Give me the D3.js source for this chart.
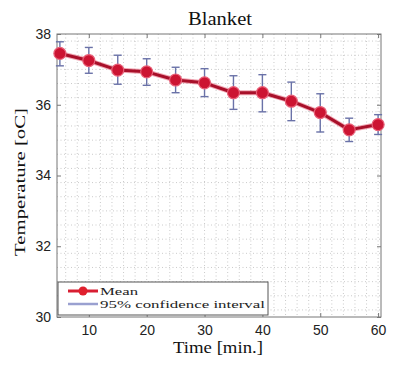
<!DOCTYPE html>
<html><head><meta charset="utf-8">
<script src="https://cdn.jsdelivr.net/npm/d3@7"></script>
<style>body{margin:0;background:#fff}</style>
</head><body>
<svg id="c" width="400" height="367"></svg>
<script>
const times = [5,10,15,20,25,30,35,40,45,50,55,60];
const meanTemp = [37.45,37.25,36.98,36.93,36.70,36.62,36.34,36.34,36.10,35.78,35.29,35.44];
const upperCI = [37.78,37.62,37.40,37.30,37.06,37.02,36.82,36.85,36.64,36.31,35.62,35.72];
const lowerCI = [37.10,36.89,36.58,36.55,36.34,36.23,35.87,35.80,35.55,35.23,34.96,35.16];
const xTicks = [10,20,30,40,50,60];
const yTicks = [30,32,34,36,38];
const legendLabels = ["Mean","95% confidence interval"];

const svg = d3.select("#c");
const m = {l:57, r:381, t:34, b:317};
const x = d3.scaleLinear().domain([4.5,60.5]).range([m.l,m.r]);
const y = d3.scaleLinear().domain([30,38]).range([m.b,m.t]);
const serif = "Liberation Serif, Times New Roman, serif";

// grid
const g = svg.append("g");
const minorX = d3.range(6,61,2);
const minorY = d3.range(30.2,38,0.4);
g.selectAll(".mx").data(minorX).join("line")
  .attr("x1",d=>x(d)).attr("x2",d=>x(d)).attr("y1",m.t).attr("y2",m.b)
  .attr("stroke","#c4c4c4").attr("stroke-width",0.9).attr("stroke-dasharray","1,2.5");
g.selectAll(".my").data(minorY).join("line")
  .attr("x1",m.l).attr("x2",m.r).attr("y1",d=>y(d)).attr("y2",d=>y(d))
  .attr("stroke","#c4c4c4").attr("stroke-width",0.9).attr("stroke-dasharray","1,2.5");

// axes box
svg.append("rect").attr("x",m.l).attr("y",m.t).attr("width",m.r-m.l).attr("height",m.b-m.t)
  .attr("fill","none").attr("stroke","#777").attr("stroke-width",1);

const xa = svg.append("g").attr("transform",`translate(0,${m.b})`)
  .call(d3.axisBottom(x).tickValues(xTicks).tickSize(-4).tickPadding(8));
const xt = svg.append("g").attr("transform",`translate(0,${m.t})`)
  .call(d3.axisTop(x).tickValues(xTicks).tickSize(-4).tickFormat(""));
const ya = svg.append("g").attr("transform",`translate(${m.l},0)`)
  .call(d3.axisLeft(y).tickValues(yTicks).tickSize(-4).tickPadding(6));
const yr = svg.append("g").attr("transform",`translate(${m.r},0)`)
  .call(d3.axisRight(y).tickValues(yTicks).tickSize(-4).tickFormat(""));
[xa,xt,ya,yr].forEach(a=>{
  a.select(".domain").remove();
  a.selectAll("line").attr("stroke","#777");
  a.selectAll("text").attr("font-family","Liberation Sans, Arial, sans-serif").attr("font-size",14).attr("fill","#222");
});

// error bars
const eb = svg.append("g").attr("stroke","#6a72a8").attr("stroke-width",1.4);
times.forEach((t,i)=>{
  eb.append("line").attr("x1",x(t)).attr("x2",x(t)).attr("y1",y(upperCI[i])).attr("y2",y(lowerCI[i]));
  eb.append("line").attr("x1",x(t)-4).attr("x2",x(t)+4).attr("y1",y(upperCI[i])).attr("y2",y(upperCI[i]));
  eb.append("line").attr("x1",x(t)-4).attr("x2",x(t)+4).attr("y1",y(lowerCI[i])).attr("y2",y(lowerCI[i]));
});

// mean line
const line = d3.line().x((d,i)=>x(times[i])).y(d=>y(d));
svg.append("path").datum(meanTemp).attr("d",line).attr("fill","none")
  .attr("stroke","#e4506a").attr("stroke-width",5).attr("stroke-opacity",0.5).attr("stroke-linejoin","round");
svg.append("path").datum(meanTemp).attr("d",line).attr("fill","none")
  .attr("stroke","#a8102a").attr("stroke-width",3).attr("stroke-linejoin","round");
svg.selectAll(".pt").data(meanTemp).join("circle")
  .attr("cx",(d,i)=>x(times[i])).attr("cy",d=>y(d)).attr("r",6)
  .attr("fill","#cc1432").attr("stroke","#e86078").attr("stroke-width",1.2);

// legend
const lg = svg.append("g");
lg.append("rect").attr("x",58).attr("y",282).attr("width",210).attr("height",33)
  .attr("fill","#fff").attr("stroke","#555").attr("stroke-width",1);
lg.append("line").attr("x1",68).attr("x2",98).attr("y1",291).attr("y2",291)
  .attr("stroke","#d81e32").attr("stroke-width",3);
lg.append("circle").attr("cx",83).attr("cy",291).attr("r",4.5).attr("fill","#e0202e");
lg.append("line").attr("x1",68).attr("x2",98).attr("y1",304).attr("y2",304)
  .attr("stroke","#9aa0d0").attr("stroke-width",2.5);
const lw = [38,165];
lg.selectAll("text").data(legendLabels).join("text")
  .attr("x",100).attr("y",(d,i)=>295+i*13).text(d=>d)
  .attr("textLength",(d,i)=>lw[i]).attr("lengthAdjust","spacingAndGlyphs")
  .attr("font-family",serif).attr("font-size",11).attr("fill","#222");

// titles
svg.append("text").attr("x",220).attr("y",25).attr("text-anchor","middle")
  .attr("textLength",64).attr("lengthAdjust","spacingAndGlyphs")
  .attr("font-family",serif).attr("font-size",18).attr("fill","#111").text("Blanket");
svg.append("text").attr("x",218).attr("y",353).attr("text-anchor","middle")
  .attr("textLength",90).attr("lengthAdjust","spacingAndGlyphs")
  .attr("font-family",serif).attr("font-size",17).attr("fill","#111").text("Time [min.]");
svg.append("text").attr("transform","translate(25,182) rotate(-90)").attr("text-anchor","middle")
  .attr("textLength",148).attr("lengthAdjust","spacingAndGlyphs")
  .attr("font-family",serif).attr("font-size",15).attr("fill","#111").text("Temperature [oC]");
</script>
</body></html>
